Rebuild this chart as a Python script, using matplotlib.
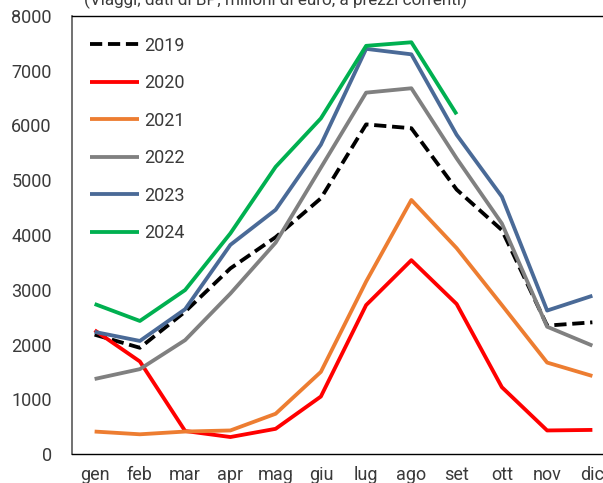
import matplotlib.pyplot as plt
import numpy as np

plt.rcParams['font.family'] = ['Roboto', 'DejaVu Sans']

# ---------- data (milioni di euro) ----------
months = ['gen', 'feb', 'mar', 'apr', 'mag', 'giu',
          'lug', 'ago', 'set', 'ott', 'nov', 'dic']

y2019 = [2180, 1940, 2600, 3390, 3960, 4670, 6020, 5950, 4830, 4090, 2345, 2405]
y2020 = [2260, 1690, 420, 310, 460, 1050, 2720, 3540, 2740, 1220, 430, 440]
y2021 = [410, 360, 410, 430, 735, 1500, 3150, 4640, 3760, 2720, 1670, 1425]
y2022 = [1370, 1550, 2080, 2930, 3860, 5230, 6600, 6680, 5400, 4210, 2325, 1980]
y2023 = [2230, 2065, 2645, 3820, 4460, 5650, 7400, 7300, 5830, 4700, 2620, 2890]
y2024 = [2740, 2430, 2995, 4030, 5245, 6130, 7455, 7520, 6205]

series = [
    ('2019', y2019, 'black'),
    ('2020', y2020, '#FF0000'),
    ('2021', y2021, '#ED7D31'),
    ('2022', y2022, '#808080'),
    ('2023', y2023, '#4A6A97'),
    ('2024', y2024, '#00B050'),
]

txt = '#3A3A3A'

fig = plt.figure(figsize=(6.03, 4.83), dpi=100)
# plot area runs past the right edge, as in the exported chart
ax = fig.add_axes([72 / 603, 29 / 483, 543 / 603, 438 / 483])

for label, vals, color in series:
    x = np.arange(len(vals))
    if label == '2019':
        ax.plot(x, vals, color=color, lw=2.75, label=label,
                dashes=(3.2, 1.5), dash_capstyle='butt')
    else:
        ax.plot(x, vals, color=color, lw=2.75, label=label,
                solid_capstyle='butt')

ax.set_xlim(-0.5, 11.5)
ax.set_ylim(0, 8000)
ax.set_xticks(range(12))
ax.set_xticklabels(months)
ax.set_yticks(range(0, 8001, 1000))
ax.tick_params(axis='both', length=0, labelsize=13, colors=txt)
ax.tick_params(axis='y', pad=14.5)
ax.tick_params(axis='x', pad=9)

ax.spines['left'].set_color('#595959')
ax.spines['left'].set_linewidth(1.2)
ax.spines['top'].set_color('black')
ax.spines['top'].set_linewidth(1.0)
ax.spines['bottom'].set_color('black')
ax.spines['bottom'].set_linewidth(1.0)
ax.spines['right'].set_visible(False)

leg = ax.legend(loc='upper left', bbox_to_anchor=(0.033, 0.953),
                frameon=False, fontsize=13, handlelength=2.7,
                handletextpad=0.3, labelspacing=1.08,
                borderpad=0, borderaxespad=0)
for t in leg.get_texts():
    t.set_color(txt)

fig.text(276 / 603, 1 - 5 / 483,
         '(Viaggi; dati di BP, milioni di euro, a prezzi correnti)',
         ha='center', va='baseline', fontsize=12.3, color=txt)

fig.savefig('out.png', dpi=100)
